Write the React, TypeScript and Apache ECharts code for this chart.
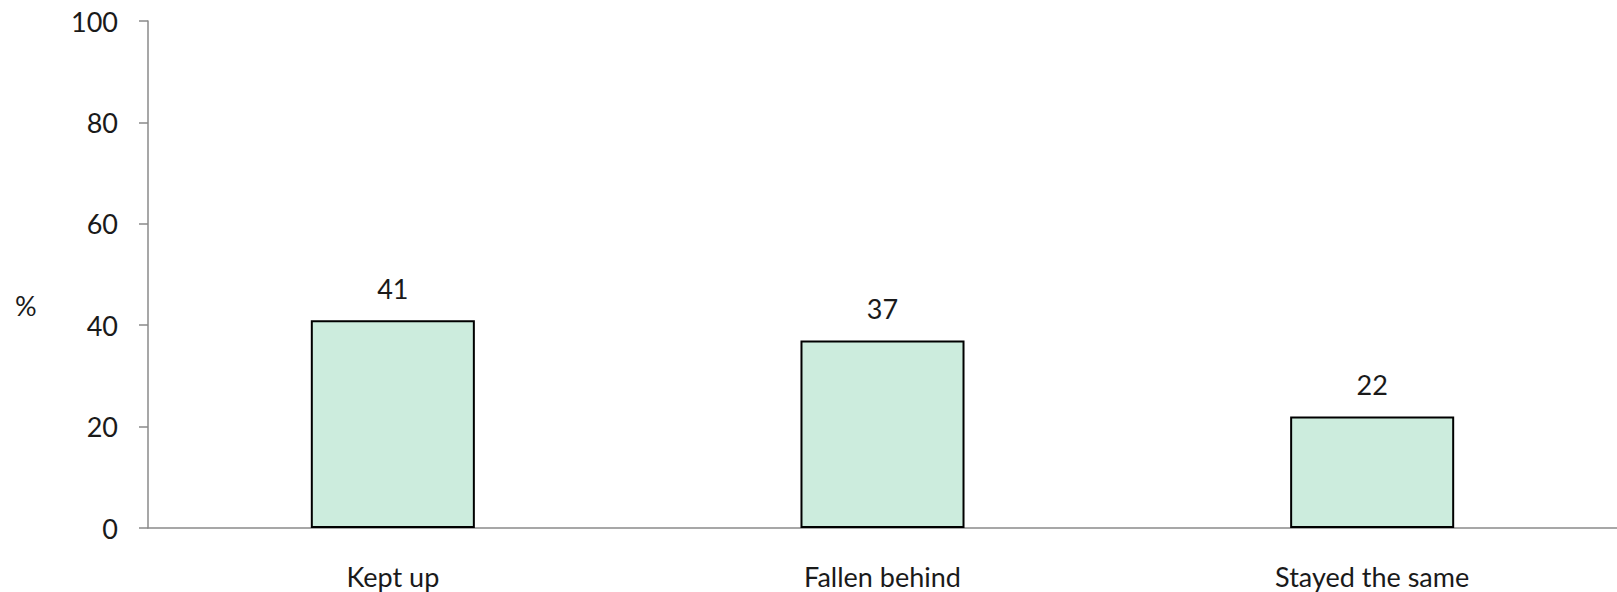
import React, { useEffect, useRef } from "react";
import * as echarts from "echarts";

const categories = ["Kept up", "Fallen behind", "Stayed the same"];
const values = [41, 37, 22];
const yTicks = [0, 20, 40, 60, 80, 100];

export default function App() {
  const ref = useRef<HTMLDivElement>(null);
  useEffect(() => {
    document.body.style.margin = "0";
    const chart = echarts.init(ref.current!, undefined, { renderer: "svg" });
    chart.setOption({
      animation: false,
      backgroundColor: "#ffffff",
      textStyle: { fontFamily: "Lato" },
      grid: { left: 148, right: 0, top: 21, bottom: 64, containLabel: false },
      graphic: [
        {
          type: "text",
          left: 15,
          top: 292,
          style: { text: "%", font: "27px Lato", fill: "#1a1a1a" },
        },
      ],
      xAxis: {
        type: "category",
        data: categories,
        axisLine: { lineStyle: { color: "#8a8a8a", width: 1.5 } },
        axisTick: { show: false },
        axisLabel: { color: "#1a1a1a", fontSize: 27, fontFamily: "Lato", margin: 35 },
      },
      yAxis: {
        type: "value",
        min: yTicks[0],
        max: yTicks[yTicks.length - 1],
        interval: 20,
        splitLine: { show: false },
        axisLine: { show: true, lineStyle: { color: "#8a8a8a", width: 1.5 } },
        axisTick: { show: true, length: 9, lineStyle: { color: "#8a8a8a", width: 1.5 } },
        axisLabel: { color: "#1a1a1a", fontSize: 27, fontFamily: "Lato", margin: 30 },
      },
      series: [
        {
          type: "bar",
          data: values,
          barWidth: "33.5%",
          itemStyle: { color: "#ccecdd", borderColor: "#000000", borderWidth: 2 },
          label: {
            show: true,
            position: "top",
            distance: 18,
            color: "#1a1a1a",
            fontSize: 27,
            fontFamily: "Lato",
          },
        },
      ],
    });
    return () => chart.dispose();
  }, []);
  return <div ref={ref} style={{ width: 1617, height: 592 }} />;
}
